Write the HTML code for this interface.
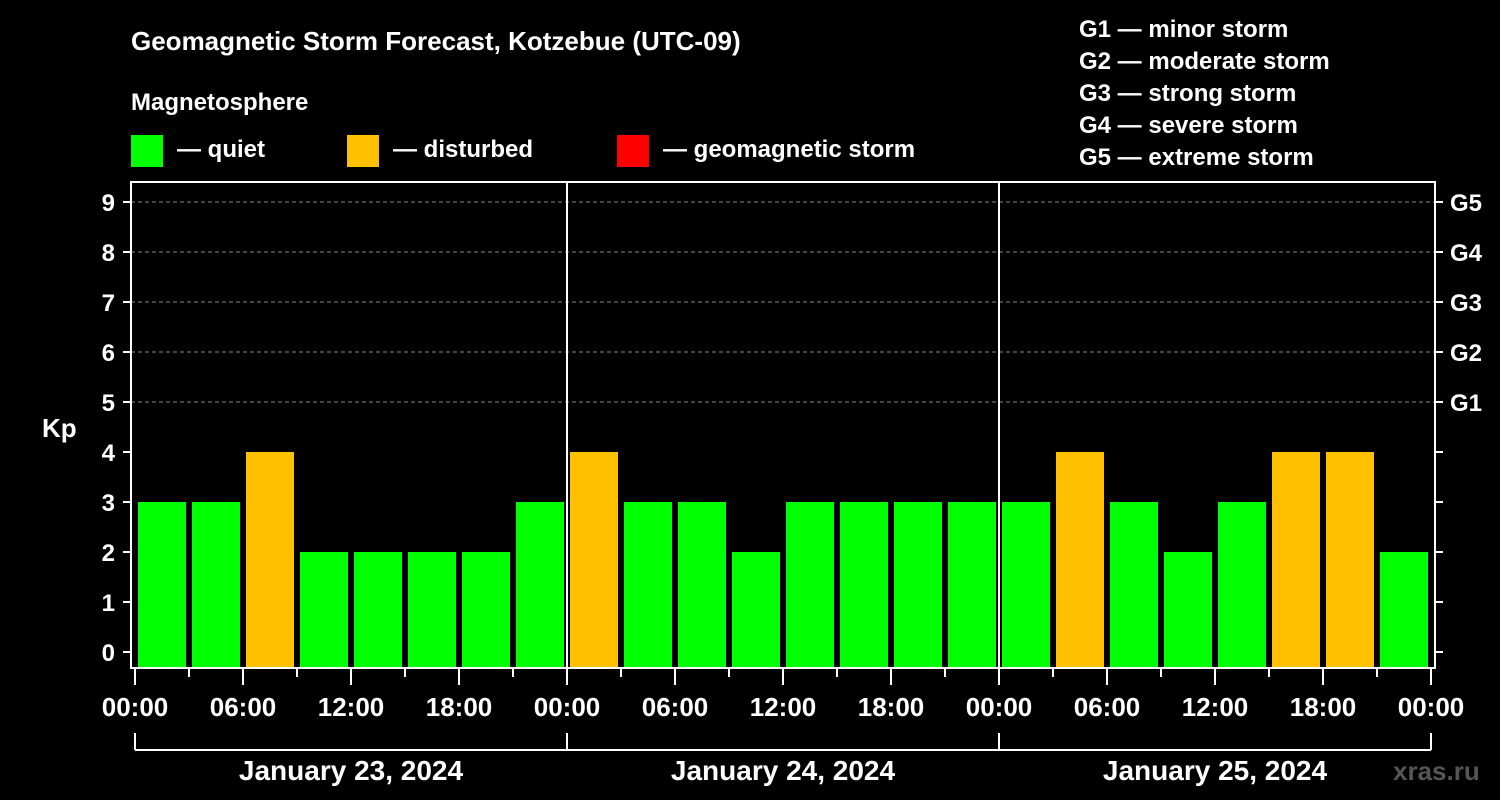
<!DOCTYPE html>
<html><head><meta charset="utf-8"><style>
body{margin:0;background:#000;}
svg{display:block;font-family:"Liberation Sans",Arial,sans-serif;font-weight:bold;fill:#fff;}
</style></head><body>
<svg id="chart" width="1500" height="800" viewBox="0 0 1500 800">
<rect width="1500" height="800" fill="#000"/>
<text x="131" y="50" font-size="26">Geomagnetic Storm Forecast, Kotzebue (UTC-09)</text>
<text x="131" y="110" font-size="24">Magnetosphere</text>
<g>
<rect x="131" y="135" width="32" height="32" fill="#00ff00"/>
<text x="177" y="157" font-size="24">— quiet</text>
<rect x="347" y="135" width="32" height="32" fill="#ffc000"/>
<text x="393" y="157" font-size="24">— disturbed</text>
<rect x="617" y="135" width="32" height="32" fill="#ff0000"/>
<text x="663" y="157" font-size="24">— geomagnetic storm</text>
</g>
<g font-size="24">
<text x="1079" y="37">G1 — minor storm</text>
<text x="1079" y="69">G2 — moderate storm</text>
<text x="1079" y="101">G3 — strong storm</text>
<text x="1079" y="133">G4 — severe storm</text>
<text x="1079" y="165">G5 — extreme storm</text>
</g>
<text x="42" y="437" font-size="26">Kp</text>
<g id="grid"></g>
<g id="bars"></g>
<g id="axes"></g>
<text x="1393" y="780" font-size="26" fill="#555" style="fill:#555">xras.ru</text>
</svg>
<script>
const kpValues=[3,3,4,2,2,2,2,3, 4,3,3,2,3,3,3,3, 3,4,3,2,3,4,4,2];
const dayLabels=["January 23, 2024","January 24, 2024","January 25, 2024"];
const hourLabels=["00:00","06:00","12:00","18:00"];
const yTicks=[0,1,2,3,4,5,6,7,8,9];
const gLabels=["G1","G2","G3","G4","G5"];
const NS="http://www.w3.org/2000/svg";
const L=131,R=1435,T=182,B=668,X0=135,DAYW=432;
const y=v=>652-v*50;
const x=h=>X0+h*DAYW/24;
function mk(tag,attrs,parent){const e=document.createElementNS(NS,tag);for(const k in attrs)e.setAttribute(k,attrs[k]);parent.appendChild(e);return e;}
const grid=document.getElementById('grid'),bars=document.getElementById('bars'),axes=document.getElementById('axes');
for(let v=5;v<=9;v++){const ln=mk('line',{x1:L,x2:R,y1:y(v),y2:y(v),stroke:'#888','stroke-dasharray':'4,3','stroke-width':1},grid);

}
kpValues.forEach((v,i)=>{const c=v>=5?'#ff0000':(v>=4?'#ffc000':'#00ff00');
const r=mk('rect',{x:x(i*3)+3,y:y(v),width:48,height:B-y(v),fill:c},bars);

});
const fr=mk('rect',{x:L,y:T,width:R-L,height:B-T,fill:'none',stroke:'#fff','stroke-width':2},axes);


for(let d=1;d<dayLabels.length;d++){const ln=mk('line',{x1:x(d*24),x2:x(d*24),y1:T,y2:B,stroke:'#fff','stroke-width':2},axes);

}
yTicks.forEach(v=>{mk('line',{x1:123,x2:L,y1:y(v),y2:y(v),stroke:'#fff','stroke-width':2},axes);
mk('line',{x1:R,x2:1443,y1:y(v),y2:y(v),stroke:'#fff','stroke-width':2},axes);
const t=mk('text',{x:115,y:y(v)+9,'font-size':24,'text-anchor':'end'},axes);t.textContent=v;

});
gLabels.forEach((g,i)=>{const t=mk('text',{x:1450,y:y(5+i)+9,'font-size':24},axes);t.textContent=g;

});
for(let h=0;h<=24*dayLabels.length;h+=3){const maj=h%6===0;
mk('line',{x1:x(h),x2:x(h),y1:B,y2:maj?685:677,stroke:'#fff','stroke-width':2},axes);
if(maj){const t=mk('text',{x:x(h),y:716,'font-size':26,'text-anchor':'middle'},axes);t.textContent=hourLabels[(h/6)%4];

}}
mk('line',{x1:x(0),x2:x(72),y1:750,y2:750,stroke:'#fff','stroke-width':2},axes);
for(let d=0;d<=dayLabels.length;d++)mk('line',{x1:x(d*24),x2:x(d*24),y1:733,y2:750,stroke:'#fff','stroke-width':2},axes);
dayLabels.forEach((s,d)=>{const t=mk('text',{x:x(d*24+12),y:780,'font-size':28,'text-anchor':'middle'},axes);t.textContent=s;

});
</script>
</body></html>
